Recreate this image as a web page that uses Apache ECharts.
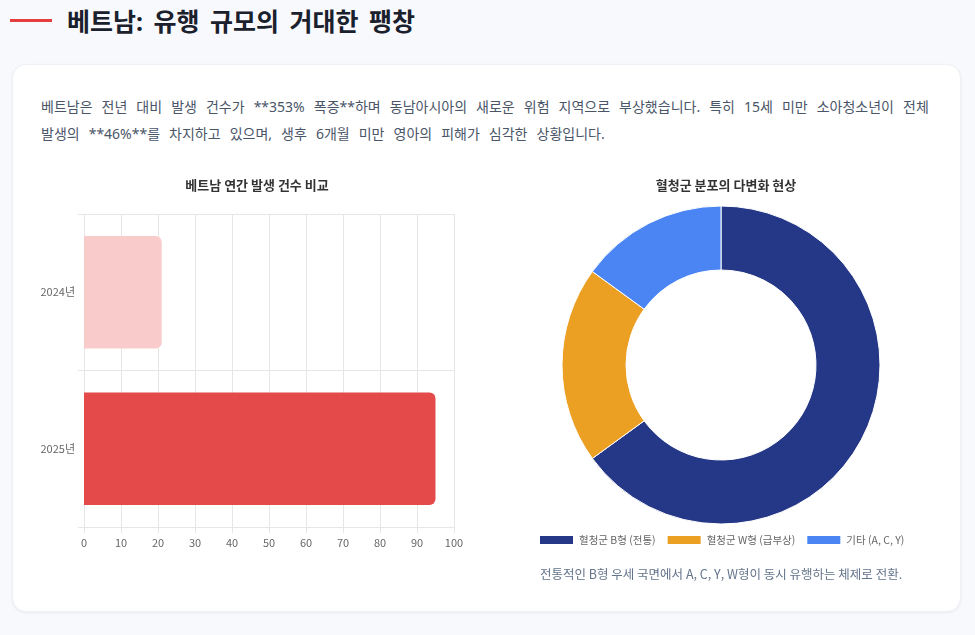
<!DOCTYPE html>
<html lang="ko">
<head>
    <meta charset="UTF-8">
    <title>베트남: 유행 규모의 거대한 팽창</title>
    <script src="https://cdn.jsdelivr.net/npm/echarts@6/dist/echarts.min.js"></script>
    <style>
        html, body {
            margin: 0;
            padding: 0;
            width: 975px;
            height: 635px;
            overflow: hidden;
            background: #f7f9fc;
            font-family: "Noto Sans", "Noto Sans CJK KR", sans-serif;
        }

        .page-title {
            position: absolute;
            left: 10px;
            top: 2px;
            height: 36px;
            display: flex;
            align-items: center;
        }

        .page-title .bar {
            width: 42px;
            height: 3px;
            background: #e53e3e;
            margin-right: 15px;
        }

        .page-title h2 {
            margin: 0;
            font-size: 25px;
            font-weight: 700;
            word-spacing: 4px;
            color: #1a202c;
        }

        .card {
            position: absolute;
            left: 12px;
            top: 64px;
            width: 949px;
            height: 548px;
            box-sizing: border-box;
            padding: 28px 28px 0 28px;
            background: #fff;
            border-radius: 14px;
            box-shadow: 0 1px 3px rgba(0, 0, 0, 0.06);
            border: 1px solid #eef1f5;
        }

        .card p {
            margin: 0;
            font-size: 14px;
            line-height: 27px;
            word-spacing: 5.4px;
            color: #4a5568;
        }

        #chart {
            position: absolute;
            left: 0;
            top: 0;
            width: 975px;
            height: 635px;
        }
    </style>
</head>
<body>
<div class="page-title">
    <div class="bar"></div>
    <h2>베트남: 유행 규모의 거대한 팽창</h2>
</div>
<div class="card">
    <p>베트남은 전년 대비 발생 건수가 **353% 폭증**하며 동남아시아의 새로운 위험 지역으로 부상했습니다. 특히 15세 미만 소아청소년이 전체 발생의 **46%**를 차지하고 있으며, 생후 6개월 미만 영아의 피해가 심각한 상황입니다.</p>
</div>
<div id="chart"></div>
<script>
    // 연간 발생 건수 (막대)
    var years = ['2024년', '2025년'];
    var yearCounts = [21, 95];
    var yearColors = ['#f9cbcb', '#e44a4a'];
    var xTicks = [0, 100, 10]; // min, max, interval

    // 혈청군 분포 (도넛)
    var serotypes = ['혈청군 B형 (전통)', '혈청군 W형 (급부상)', '기타 (A, C, Y)'];
    var serotypeShares = [65, 20, 15];
    var serotypeColors = ['#253887', '#eca023', '#4a85f3'];

    var font = '"Noto Sans CJK KR", "Noto Sans", sans-serif';
    var gridColor = '#e6e6e6';

    var chart = echarts.init(document.getElementById('chart'), null, {renderer: 'canvas'});

    chart.setOption({
        animation: false,
        textStyle: {fontFamily: font},
        title: [{
            text: '베트남 연간 발생 건수 비교',
            left: 252, top: 174, textAlign: 'center',
            textStyle: {fontSize: 13, fontWeight: 'bold', color: '#333', fontFamily: font}
        }, {
            text: '혈청군 분포의 다변화 현상',
            left: 721, top: 174, textAlign: 'center',
            textStyle: {fontSize: 13, fontWeight: 'bold', color: '#333', fontFamily: font}
        }],
        grid: {left: 84, right: 521, top: 214, bottom: 108, containLabel: false},
        xAxis: {
            type: 'value',
            min: xTicks[0], max: xTicks[1], interval: xTicks[2],
            axisLine: {show: true, lineStyle: {color: gridColor}},
            axisTick: {show: true, length: 6, lineStyle: {color: gridColor}},
            axisLabel: {color: '#666', fontSize: 11, margin: 10, fontFamily: font},
            splitLine: {show: true, lineStyle: {color: gridColor}}
        },
        yAxis: {
            type: 'category',
            data: years,
            inverse: true,
            axisLine: {show: true, lineStyle: {color: gridColor}},
            axisTick: {show: true, length: 6, lineStyle: {color: gridColor}},
            axisLabel: {color: '#666', fontSize: 11, margin: 9, fontFamily: font},
            splitLine: {show: true, lineStyle: {color: gridColor}}
        },
        legend: {
            data: serotypes,
            left: 533, top: 529,
            itemWidth: 35, itemHeight: 10, itemGap: 10,
            icon: 'rect',
            textStyle: {color: '#666', fontSize: 10.5, fontFamily: font}
        },
        series: [{
            type: 'bar',
            barWidth: '72%',
            data: yearCounts.map(function (v, i) {
                return {value: v, itemStyle: {color: yearColors[i], borderRadius: [0, 6, 6, 0]}};
            })
        }, {
            type: 'pie',
            center: [721, 365],
            radius: [95, 159],
            startAngle: 90,
            label: {show: false},
            labelLine: {show: false},
            itemStyle: {borderColor: '#fff', borderWidth: 1},
            data: serotypes.map(function (name, i) {
                return {name: name, value: serotypeShares[i], itemStyle: {color: serotypeColors[i]}};
            })
        }],
        graphic: [{
            type: 'text',
            left: 540, top: 568,
            style: {
                text: '전통적인 B형 우세 국면에서 A, C, Y, W형이 동시 유행하는 체제로 전환.',
                fill: '#64748b',
                fontSize: 12.5,
                fontFamily: font
            }
        }]
    });
</script>
</body>
</html>
